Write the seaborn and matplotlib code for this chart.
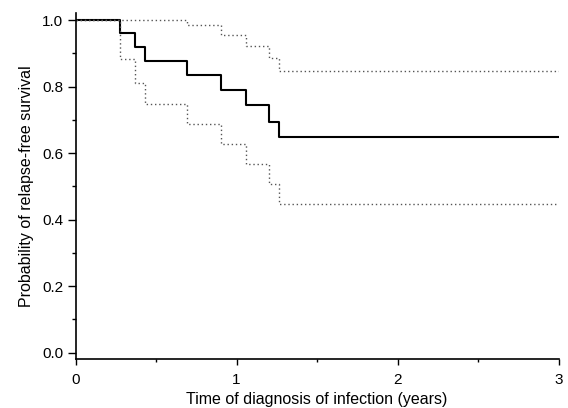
import matplotlib
matplotlib.use("Agg")
import matplotlib.pyplot as plt
import seaborn as sns
import pandas as pd
from matplotlib.ticker import MultipleLocator

sns.set_theme(style="ticks")
plt.rcParams['font.family'] = ['Liberation Sans', 'DejaVu Sans']

# Kaplan-Meier estimate (step times in years)
times = [0.0, 0.278, 0.367, 0.431, 0.691, 0.902, 1.058, 1.203, 1.261, 3.0]
survival = [1.0, 0.960, 0.918, 0.877, 0.835, 0.791, 0.745, 0.694, 0.647, 0.647]
upper_ci = [1.0, 1.0, 1.0, 1.0, 0.984, 0.956, 0.921, 0.885, 0.846, 0.846]
lower_ci = [1.0, 0.882, 0.810, 0.746, 0.688, 0.628, 0.568, 0.507, 0.447, 0.447]

df = pd.DataFrame({"time": times, "surv": survival, "up": upper_ci, "lo": lower_ci})

fig = plt.figure(figsize=(5.68, 4.08), dpi=100)
ax = fig.add_axes([0.1330, 0.1193, 0.8506, 0.8488])

sns.lineplot(data=df, x="time", y="surv", ax=ax, drawstyle="steps-post",
             color="black", linewidth=1.5, estimator=None)
sns.lineplot(data=df, x="time", y="up", ax=ax, drawstyle="steps-post",
             color="#555555", linewidth=1.0, linestyle=(0, (1, 2)), estimator=None)
sns.lineplot(data=df, x="time", y="lo", ax=ax, drawstyle="steps-post",
             color="#555555", linewidth=1.0, linestyle=(0, (1, 2)), estimator=None)

ax.set_xlim(0, 3)
ax.set_ylim(-0.02, 1.021)
ax.set_xticks([0, 1, 2, 3])
ax.set_yticks([0.0, 0.2, 0.4, 0.6, 0.8, 1.0])
ax.set_yticklabels(["0.0", "0.2", "0.4", "0.6", "0.8", "1.0"])
ax.xaxis.set_minor_locator(MultipleLocator(0.5))
ax.yaxis.set_minor_locator(MultipleLocator(0.1))
ax.tick_params(axis="x", which="major", length=4, width=1, pad=5.7, labelsize=11, color="black", labelcolor="black")
ax.tick_params(axis="x", which="minor", length=2.4, width=1, color="black")
ax.tick_params(axis="y", which="major", length=5.5, width=1, pad=3.5, labelsize=11, color="black", labelcolor="black")
ax.tick_params(axis="y", which="minor", length=3, width=1, color="black")
ax.set_xlabel("Time of diagnosis of infection (years)", fontsize=11.5, color="black", labelpad=4)
ax.set_ylabel("Probability of relapse-free survival", fontsize=11.5, color="black", labelpad=6)
for s in ["top", "right"]:
    ax.spines[s].set_visible(False)
for s in ["left", "bottom"]:
    ax.spines[s].set_linewidth(1.2)
    ax.spines[s].set_color("black")

fig.savefig("out.png", dpi=100)
